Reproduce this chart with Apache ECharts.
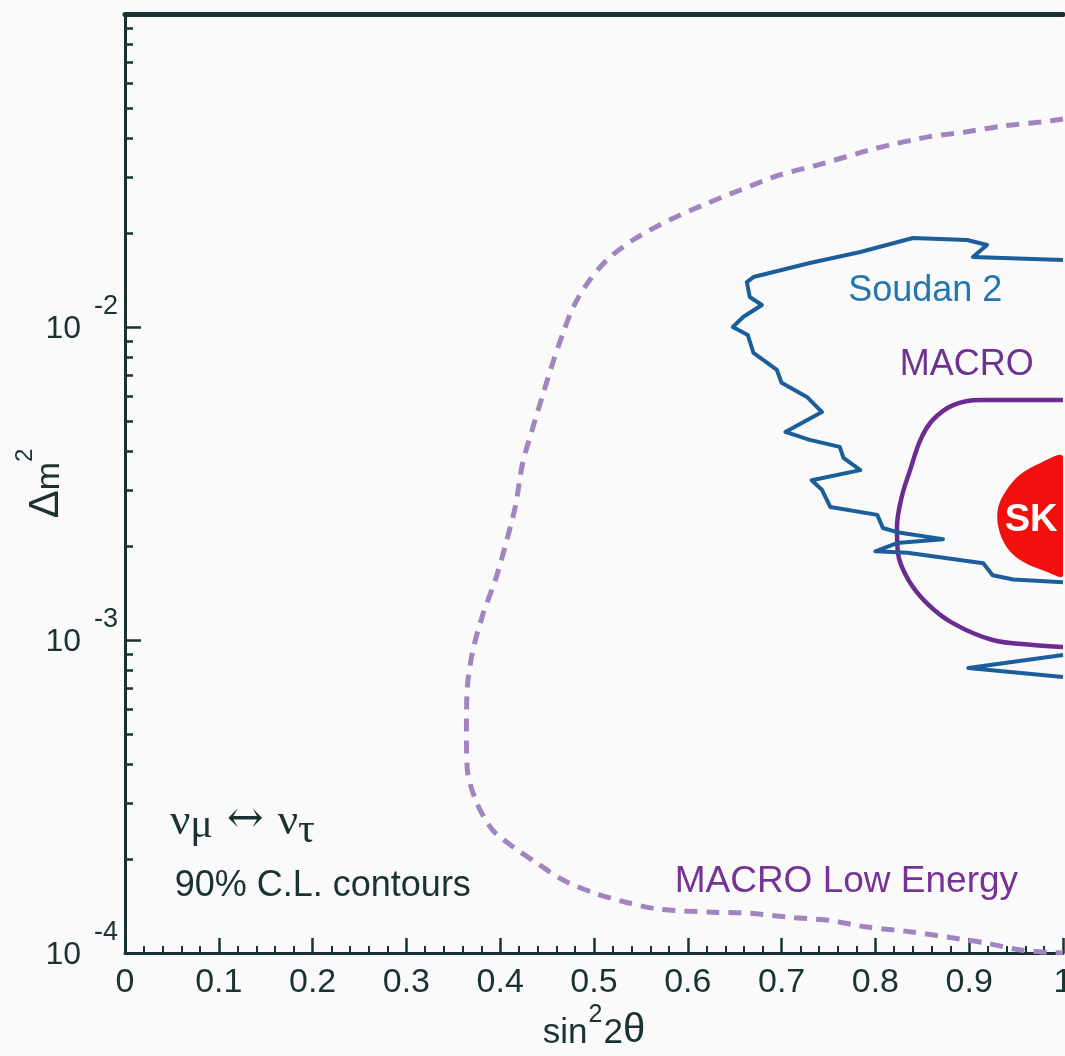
<!DOCTYPE html>
<html><head><meta charset="utf-8">
<script src="https://cdn.jsdelivr.net/npm/echarts@6/dist/echarts.min.js"></script>
<style>html,body{margin:0;padding:0;background:#fafafa;}#c{width:1065px;height:1056px;}</style>
</head><body><div id="c"></div>
<script>
// ---- data ----
const xTickValues = [0,0.1,0.2,0.3,0.4,0.5,0.6,0.7,0.8,0.9,1];
const yMajorTicks = [1e-4,1e-3,1e-2,1e-1];
const yLabelTicks = [1e-4,1e-3,1e-2];
const yMinorTicks = [2e-4,3e-4,4e-4,5e-4,6e-4,7e-4,8e-4,9e-4,
                     2e-3,3e-3,4e-3,5e-3,6e-3,7e-3,8e-3,9e-3,
                     2e-2,3e-2,4e-2,5e-2,6e-2,7e-2,8e-2,9e-2];

const lowEnergyX = [1.000,0.978,0.936,0.896,0.856,0.840,0.816,0.794,0.738,0.698,0.656,0.616,0.581,0.542,0.514,0.493,0.478,0.467,0.456,0.446,0.434,0.424,0.416,0.405,0.395,0.382,0.371,0.365,0.364,0.365,0.375,0.392,0.414,0.439,0.467,0.499,0.535,0.570,0.626,0.666,0.709,0.752,0.791,0.837,0.880,0.915,0.957,1.000];
const lowEnergyY = [0.0462,0.0452,0.0439,0.0420,0.0405,0.0396,0.0382,0.0368,0.0329,0.0306,0.0274,0.0245,0.0220,0.0190,0.0164,0.0138,0.0116,0.00957,0.00767,0.00615,0.00469,0.00368,0.00266,0.00198,0.00156,0.00122,0.000929,0.000708,0.000505,0.000384,0.000302,0.000247,0.000218,0.000194,0.000171,0.000156,0.000145,0.000138,0.000135,0.000134,0.000130,0.000127,0.000121,0.000117,0.000112,0.000108,0.000102,0.000100];

const soudanX = [1.000,0.904,0.919,0.898,0.840,0.784,0.730,0.670,0.663,0.666,0.679,0.659,0.648,0.664,0.670,0.695,0.700,0.727,0.743,0.704,0.730,0.762,0.766,0.784,0.732,0.743,0.752,0.802,0.808,0.823,0.872,0.823,0.800,0.834,0.915,0.925,0.947,1.000];
const soudanY = [0.01637,0.01674,0.01828,0.01897,0.01925,0.01736,0.01602,0.01444,0.01392,0.01247,0.01176,0.01076,0.0100,0.00943,0.00826,0.00729,0.00663,0.00598,0.00535,0.00462,0.00436,0.00414,0.00382,0.00349,0.00324,0.00302,0.00266,0.00251,0.00228,0.00221,0.00210,0.00204,0.00192,0.00190,0.00176,0.00161,0.00156,0.00153];
const soudanTailX = [1.000,0.899,1.000];
const soudanTailY = [0.000896,0.000814,0.000762];

const macroX = [1.000,0.912,0.883,0.861,0.848,0.837,0.828,0.823,0.824,0.835,0.855,0.883,0.925,0.968,1.000];
const macroY = [0.00584,0.00584,0.00563,0.00504,0.00436,0.00349,0.00286,0.00230,0.00190,0.00156,0.00131,0.00113,0.00100,0.000964,0.000950];

const skX = [1.000,0.976,0.954,0.940,0.931,0.931,0.940,0.957,0.983,1.000];
const skY = [0.00384,0.00368,0.00337,0.00302,0.00266,0.00230,0.00198,0.00178,0.00165,0.00161];

const annoText = ['Soudan 2','MACRO','MACRO Low Energy','90% C.L. contours','{n|ν}{u|μ}{a| ↔ }{n|ν}{t|τ}','SK'];
const annoX = [0.771,0.826,0.586,0.053,0.048,0.966];
const annoY = [0.0130,0.00756,0.000169,0.000164,0.000262,0.0024];

// ---- chart ----
const F = '"Liberation Sans", Arial, Helvetica, sans-serif';
const SERIF = '"Liberation Serif", "Times New Roman", serif';
const AX = '#1b3232';
const zip = (a,b) => a.map((v,i)=>[v,b[i]]);

const annoStyles = [
  {color:'#2277b3', fontSize:36, fontFamily:F},
  {color:'#6f3190', fontSize:36, fontFamily:F},
  {color:'#763294', fontSize:37, fontFamily:F},
  {color:'#1b3232', fontSize:36, fontFamily:F},
  {color:'#1b3232', fontFamily:SERIF, rich:{
     n:{fontSize:45, fontFamily:SERIF, color:'#1b3232', verticalAlign:'middle'},
     u:{fontSize:42, fontFamily:SERIF, color:'#1b3232', verticalAlign:'middle', padding:[8,0,0,0]},
     a:{fontSize:44, fontFamily:'"DejaVu Serif", serif', color:'#1b3232', verticalAlign:'middle', padding:[0,0,4,0]},
     t:{fontSize:42, fontFamily:SERIF, color:'#1b3232', verticalAlign:'middle', padding:[18,0,0,0]}
  }},
  {color:'#ffffff', fontSize:38, fontWeight:'bold', fontFamily:F}
];

const annoData = annoText.map((t,i)=>({
  value:[annoX[i], annoY[i]],
  label: Object.assign({show:true, opacity:1, formatter:t, position: i===5?'inside':'right', distance:0}, annoStyles[i])
}));

const chart = echarts.init(document.getElementById('c'), null, {renderer:'canvas'});
chart.setOption({
  backgroundColor:'#fafafa',
  animation:false,
  grid:{left:125, right:2, top:14, bottom:103, containLabel:false, outerBoundsMode:'none'},
  xAxis:[{
    type:'value', min:0, max:1, interval:0.1,
    axisLine:{show:true, onZero:false, lineStyle:{color:AX, width:3}},
    axisTick:{show:true, inside:true, length:15, lineStyle:{color:AX, width:2.5}},
    minorTick:{show:true, splitNumber:5, length:7, lineStyle:{color:AX, width:2}},
    splitLine:{show:false},
    axisLabel:{color:AX, fontSize:34, fontFamily:F, margin:13, hideOverlap:false,
      formatter:v=> Math.abs(v)<1e-9?'0':(Math.abs(v-1)<1e-9?'1':v.toFixed(1))},
    name:'{m|sin}{s|2}{m|2}{h|θ}', nameLocation:'middle', nameGap:50, nameMoveOverlap:false,
    nameTextStyle:{color:AX, fontFamily:F, rich:{
      m:{fontSize:35, fontFamily:F, color:AX, verticalAlign:'bottom', padding:[12,0,0,0]},
      h:{fontSize:40, fontFamily:F, color:AX, verticalAlign:'bottom', padding:[8,0,0,0]},
      s:{fontSize:25, fontFamily:F, color:AX, verticalAlign:'top', padding:[0,1,0,1]}
    }}
  },{
    type:'value', min:0, max:1, position:'top',
    axisLine:{show:true, onZero:false, lineStyle:{color:AX, width:5}},
    axisTick:{show:false}, axisLabel:{show:false}, splitLine:{show:false}
  }],
  yAxis:[{
    type:'log', logBase:10, min:1e-4, max:1e-1, position:'left',
    axisLine:{show:true, onZero:false, lineStyle:{color:AX, width:3}},
    axisTick:{show:true, inside:true, length:16, customValues:yMajorTicks, lineStyle:{color:AX, width:2.5}},
    splitLine:{show:false},
    axisLabel:{customValues:yLabelTicks, margin:7, padding:[0,0,16,0], hideOverlap:false,
      formatter:v=>{const e=Math.round(Math.log10(v)); return '{b|10}{s|-'+Math.abs(e)+'}';},
      rich:{
        b:{fontSize:32, fontFamily:F, color:AX, verticalAlign:'bottom', padding:[20,0,0,0]},
        s:{fontSize:27, fontFamily:F, color:AX, verticalAlign:'top', padding:[0,0,0,13]}
      }},
    name:'{d|Δ}{m|m}{s|2}', nameLocation:'middle', nameRotate:90, nameGap:58, nameMoveOverlap:false,
    nameTextStyle:{color:AX, fontFamily:F, rich:{
      d:{fontSize:42, fontFamily:F, color:AX, verticalAlign:'bottom', padding:[12,0,0,0]},
      m:{fontSize:34, fontFamily:F, color:AX, verticalAlign:'bottom', padding:[12,0,0,0]},
      s:{fontSize:24, fontFamily:F, color:AX, verticalAlign:'top'}
    }}
  },{
    type:'log', logBase:10, min:1e-4, max:1e-1, position:'left', offset:0,
    axisLine:{show:false},
    axisTick:{show:true, inside:true, length:8, customValues:yMinorTicks, lineStyle:{color:AX, width:2.5}},
    axisLabel:{show:false}, splitLine:{show:false}
  }],
  series:[
    {
      type:'custom', clip:true, xAxisIndex:0, yAxisIndex:0, data:[0], z:1,
      renderItem:(params, api)=>({
        type:'polygon',
        shape:{points: skX.map((x,i)=>api.coord([x, skY[i]])), smooth:0.35},
        style:{fill:'#f40f0f'}
      })
    },
    {type:'line', data:zip(lowEnergyX, lowEnergyY), symbol:'none', smooth:0.3, z:2,
     lineStyle:{color:'#a285c0', width:5, type:[13,9], cap:'butt'}},
    {type:'line', data:zip(macroX, macroY), symbol:'none', smooth:0.35, z:3,
     lineStyle:{color:'#6c2b90', width:4.5}},
    {type:'line', data:zip(soudanX, soudanY), symbol:'none', z:4,
     lineStyle:{color:'#1b5e99', width:4, join:'round'}},
    {type:'line', data:zip(soudanTailX, soudanTailY), symbol:'none', z:4,
     lineStyle:{color:'#1b5e99', width:4, join:'round'}},
    {type:'scatter', data:annoData, symbolSize:0, z:10, silent:true, itemStyle:{opacity:1},
     emphasis:{disabled:true}}
  ]
});
</script></body></html>
